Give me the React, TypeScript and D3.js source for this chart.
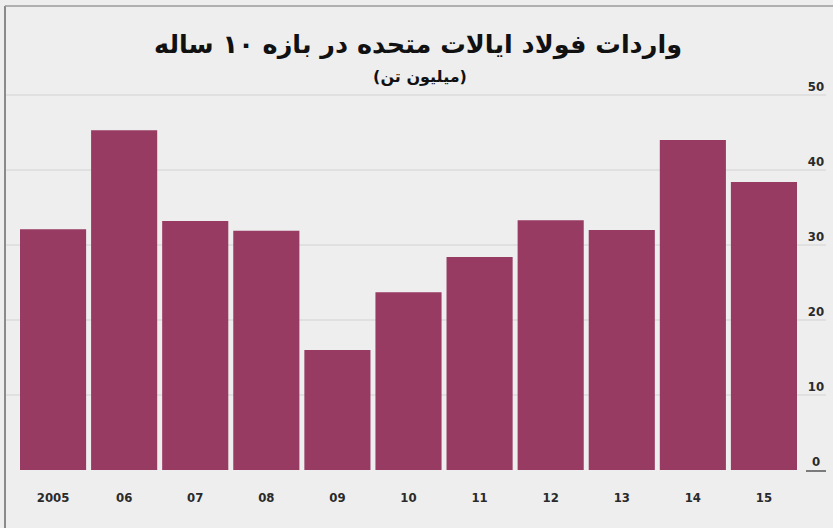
import React from "react";
import * as d3 from "d3";

const years = ["2005", "06", "07", "08", "09", "10", "11", "12", "13", "14", "15"];
const imports = [32.1, 45.3, 33.2, 31.9, 16.0, 23.7, 28.4, 33.3, 32.0, 44.0, 38.4];
const yTicks = [0, 10, 20, 30, 40, 50];
const title = "واردات فولاد ایالات متحده در بازه ۱۰ ساله";
const subtitle = "(میلیون تن)";

const W = 833;
const H = 528;

export default function App() {
  const x = d3.scaleBand<string>().domain(years).range([20, 797]).paddingInner(0.07).paddingOuter(0);
  const y = d3.scaleLinear().domain([0, 50]).range([470, 95]);
  const barColor = "#983b63";
  return (
    <>
      <style>{`body{margin:0;background:#ededed}`}</style>
      <svg width={W} height={H} style={{ display: "block" }}>
        <rect x={0} y={0} width={W} height={H} fill="#eeeeee" />
        <line x1={5} x2={5} y1={6} y2={H} stroke="#8a8a8a" strokeWidth={2} />
        <line x1={5} x2={W} y1={6} y2={6} stroke="#9a9a9a" strokeWidth={1.5} />
        {yTicks.map((t) => (
          <g key={t}>
            {t > 0 && (
              <line x1={6} x2={826} y1={y(t)} y2={y(t)} stroke="#d2d2d2" strokeWidth={1} />
            )}
            <text
              x={816}
              y={y(t) - 4}
              textAnchor="middle"
              fontFamily="'DejaVu Sans Condensed', 'DejaVu Sans', sans-serif"
              fontWeight="bold"
              fontSize={13}
              fill="#2a2a2a"
            >
              {t}
            </text>
          </g>
        ))}
        <line x1={806} x2={826} y1={y(0) + 1} y2={y(0) + 1} stroke="#555" strokeWidth={1.5} />
        {imports.map((v, i) => (
          <rect
            key={years[i]}
            x={x(years[i])}
            y={y(v)}
            width={x.bandwidth()}
            height={y(0) - y(v)}
            fill={barColor}
          />
        ))}
        {years.map((yr) => (
          <text
            key={yr}
            x={(x(yr) as number) + x.bandwidth() / 2}
            y={502}
            textAnchor="middle"
            fontFamily="'DejaVu Sans Condensed', 'DejaVu Sans', sans-serif"
            fontWeight="bold"
            fontSize={13}
            fill="#2a2a2a"
          >
            {yr}
          </text>
        ))}
        <text
          x={418}
          y={53}
          textAnchor="middle"
          direction="rtl"
          fontFamily="'DejaVu Sans', sans-serif"
          fontWeight="bold"
          fontSize={25.5}
          fill="#111"
        >
          {title}
        </text>
        <text
          x={420}
          y={82}
          textAnchor="middle"
          direction="rtl"
          fontFamily="'DejaVu Sans', sans-serif"
          fontWeight="bold"
          fontSize={16}
          fill="#111"
        >
          {subtitle}
        </text>
      </svg>
    </>
  );
}
